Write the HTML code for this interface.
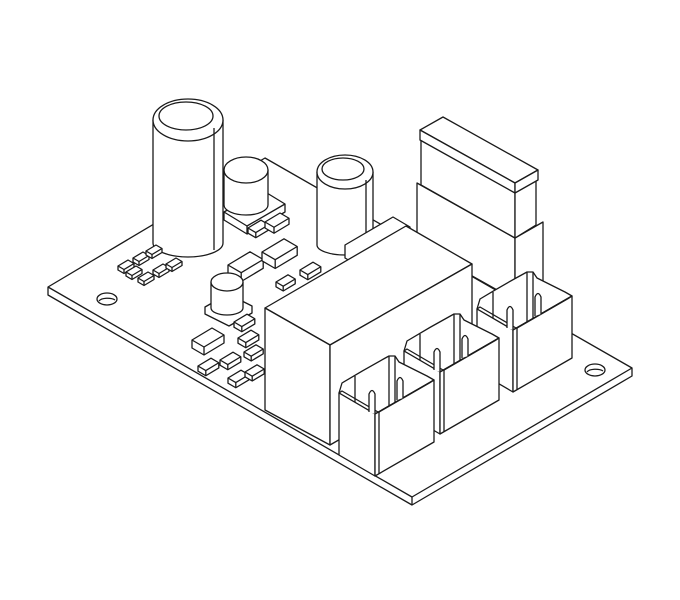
<!DOCTYPE html>
<html><head><meta charset="utf-8"><style>html,body{margin:0;padding:0;background:#fff}svg{display:block}*{vector-effect:non-scaling-stroke}</style></head>
<body>
<svg width="680" height="600" viewBox="0 0 680 600" xmlns="http://www.w3.org/2000/svg">
<defs>
<g id="pad">
<polygon points="0,0 10,-6 16,-2.5 16,1.5 6,7.5 0,4" fill="#fff" vector-effect="non-scaling-stroke"/>
<polyline points="0,0 6,3.5 16,-2.5" fill="none" vector-effect="non-scaling-stroke"/>
<line x1="6" y1="3.5" x2="6" y2="7.5" vector-effect="non-scaling-stroke"/>
</g>
<g id="conn">
<!-- back wall -->
<path d="M-36,-21 L-33,-31 Q-10,-45 14,-58 L20,-58 L24,-52 L52,-38 L59,-34 L0,0 Z" fill="#fff"/>
<line x1="-20" y1="-38" x2="-20" y2="-12"/>
<line x1="14" y1="-58" x2="14" y2="-8"/>
<line x1="20" y1="-58" x2="20" y2="-11"/>
<!-- walls -->
<polygon points="-36,-21 0,0 0,62 -36,41" fill="#fff"/>
<polygon points="0,0 59,-34 59,28 0,62" fill="#fff"/>
<polyline points="-36,-21 -33,-23 3,-2" fill="none"/>
<polyline points="4,-2 56,-32 59,-34" fill="none"/>
<line x1="4" y1="-2" x2="4" y2="60"/>
<!-- pins -->
<path d="M-6,-2 L-6,-20 Q-3,-27 0,-20 L0,0" fill="#fff"/>
<path d="M22,-14 L22,-33 Q25,-40 28,-33 L28,-16" fill="#fff"/>
</g>
</defs>
<g stroke="#1a1a1a" stroke-width="1.3" stroke-linejoin="round" fill="#fff">
<!-- board -->
<polygon points="48,287 265,158 632,368 632,376 412,505 48,295"/>
<polyline points="48,287 412,497 632,368" fill="none"/>
<line x1="412" y1="497" x2="412" y2="505"/>
<ellipse cx="107" cy="299" rx="10" ry="6"/>
<path d="M99,301 A9,4 0 0 1 115,300" fill="none"/>
<ellipse cx="595" cy="370" rx="10" ry="6"/>
<path d="M587,372 A9,4 0 0 1 603,371" fill="none"/>

<!-- header (behind relay) -->
<polygon points="417,183 515,238 515,300 417,245"/>
<polygon points="515,238 543,222 543,282 515,298"/>
<polygon points="421,138 515,191 515,238 421,185"/>
<polygon points="515,191 536,179 536,225 515,238"/>
<polygon points="420,130 443,117 538,170 515,183"/>
<polygon points="420,130 515,183 515,193 420,140"/>
<polygon points="515,183 538,170 538,180 515,193"/>

<!-- small cap behind -->
<polygon points="224,212 262,190 285,204 285,212 247,234 224,220"/>
<polyline points="224,212 247,226 285,204" fill="none"/>
<line x1="247" y1="226" x2="247" y2="234"/>
<path d="M224,170 L224,205 A22,10 0 0 0 268,205 L268,170 Z"/>
<ellipse cx="246" cy="170" rx="22" ry="13"/>
<!-- big cap -->
<path d="M153,120 L153,243 A35,14 0 0 0 223,243 L223,120 Z"/>
<ellipse cx="188" cy="120" rx="35" ry="21"/>
<ellipse cx="186" cy="116" rx="27" ry="14"/>
<line x1="214" y1="128" x2="214" y2="250"/>

<!-- SMDs near small cap -->
<use href="#pad" transform="translate(248,228) scale(1.3)"/>
<use href="#pad" transform="translate(265,222) scale(1.5)"/>
<use href="#pad" transform="translate(228,265) scale(2.2)"/>
<use href="#pad" transform="translate(262,252) scale(2.2)"/>
<use href="#pad" transform="translate(276,282) scale(1.2)"/>
<use href="#pad" transform="translate(300,270) scale(1.3)"/>
<!-- pad grid -->
<use href="#pad" transform="translate(118,266)"/>
<use href="#pad" transform="translate(133,258)"/>
<use href="#pad" transform="translate(146,251)"/>
<use href="#pad" transform="translate(138,278)"/>
<use href="#pad" transform="translate(153,270)"/>
<use href="#pad" transform="translate(166,264)"/>
<use href="#pad" transform="translate(126,272)"/>

<!-- third cap -->
<path d="M317,172 L317,245 A28,10 0 0 0 373,245 L373,172 Z"/>
<ellipse cx="345" cy="172" rx="28" ry="17"/>
<ellipse cx="343" cy="169" rx="21" ry="11"/>
<line x1="366" y1="180" x2="366" y2="250"/>
<!-- small box behind relay -->
<polygon points="345,245 393,217 410,227 410,240 362,268 345,258"/>

<!-- small cap 2 -->
<polygon points="205,307 228,294 252,306 252,313 229,326 205,314"/>
<path d="M211,282 L211,308 A16,7 0 0 0 243,308 L243,282 Z"/>
<ellipse cx="227" cy="282" rx="16" ry="9"/>
<!-- bottom-left SMDs -->
<use href="#pad" transform="translate(192,340) scale(2)"/>
<use href="#pad" transform="translate(234,322) scale(1.3)"/>
<use href="#pad" transform="translate(238,338) scale(1.3)"/>
<use href="#pad" transform="translate(244,352) scale(1.2)"/>
<use href="#pad" transform="translate(198,366) scale(1.3)"/>
<use href="#pad" transform="translate(220,360) scale(1.3)"/>
<use href="#pad" transform="translate(228,378) scale(1.3)"/>
<use href="#pad" transform="translate(245,372) scale(1.2)"/>

<!-- relay -->
<polygon points="265,308 406,226 472,264 330,345"/>
<polygon points="265,308 330,345 330,445 265,410"/>
<polygon points="330,345 472,264 472,363 330,445"/>

<!-- connectors -->
<use href="#conn" transform="translate(513,330)"/>
<use href="#conn" transform="translate(440,372)"/>
<use href="#conn" transform="translate(375,414)"/>
</g>
</svg>
</body></html>
